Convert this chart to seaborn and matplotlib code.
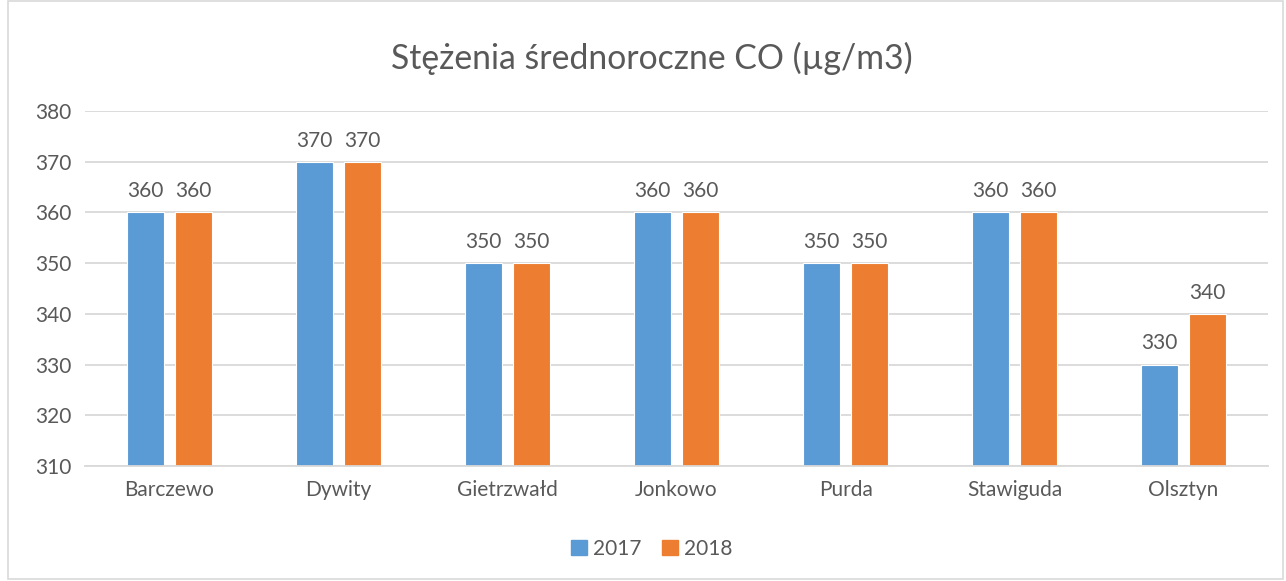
import matplotlib
matplotlib.use("Agg")
import matplotlib.pyplot as plt
import seaborn as sns
import pandas as pd
from matplotlib.patches import Rectangle

categories = ["Barczewo", "Dywity", "Gietrzwałd", "Jonkowo", "Purda", "Stawiguda", "Olsztyn"]
years = ["2017", "2018"]
values_2017 = [360, 370, 350, 360, 350, 360, 330]
values_2018 = [360, 370, 350, 360, 350, 360, 340]
yticks = [310, 320, 330, 340, 350, 360, 370, 380]
title = "Stężenia średnoroczne CO (µg/m3)"

df = pd.DataFrame({
    "cat": categories * 2,
    "year": [years[0]] * len(categories) + [years[1]] * len(categories),
    "val": values_2017 + values_2018,
})

sns.set_theme(style="white")
plt.rcParams["font.family"] = ["Lato", "DejaVu Sans"]
txt = "#595959"
fs = 15
colors = ["#5B9BD5", "#ED7D31"]

fig = plt.figure(figsize=(12.86, 5.81), dpi=100)
ax = fig.add_axes([0.0661, 0.198, 0.920, 0.611])
sns.barplot(data=df, x="cat", y="val", hue="year", order=categories, hue_order=years,
            palette=colors, saturation=1, width=0.568, gap=0.23,
            edgecolor="white", linewidth=0.8, ax=ax, legend=False)
ax.set_ylim(310, 380)
ax.set_yticks(yticks)
ax.set_xlim(-0.5, len(categories) - 0.5)
ax.yaxis.grid(True, color="#d9d9d9", linewidth=1.3)
ax.set_axisbelow(True)
for s in ["top", "right", "left"]:
    ax.spines[s].set_visible(False)
ax.spines["bottom"].set_color("#d9d9d9")
ax.spines["bottom"].set_linewidth(1.3)
ax.tick_params(axis="both", length=0, labelsize=fs, labelcolor=txt)
ax.tick_params(axis="x", pad=10)
ax.tick_params(axis="y", pad=10)
ax.set_xlabel("")
ax.set_ylabel("")

for cont in ax.containers:
    ax.bar_label(cont, fmt="%d", padding=8, fontsize=fs, color=txt)

fig.text(0.507, 0.900, title, ha="center", va="center", fontsize=24.3, color=txt)

handles = [Rectangle((0, 0), 1, 1, color=c) for c in colors]
fig.legend(handles, years, loc="center", bbox_to_anchor=(0.507, 0.055), ncol=2,
           frameon=False, fontsize=fs, labelcolor=txt, handlelength=0.75, handleheight=0.75,
           handletextpad=0.3, columnspacing=1.0)

fig.patches.append(Rectangle((8 / 1286, 0.004), 1275 / 1286, 0.994, transform=fig.transFigure,
                             fill=False, edgecolor="#d9d9d9", linewidth=1.2))

fig.savefig("out.png", dpi=100, facecolor="white")
